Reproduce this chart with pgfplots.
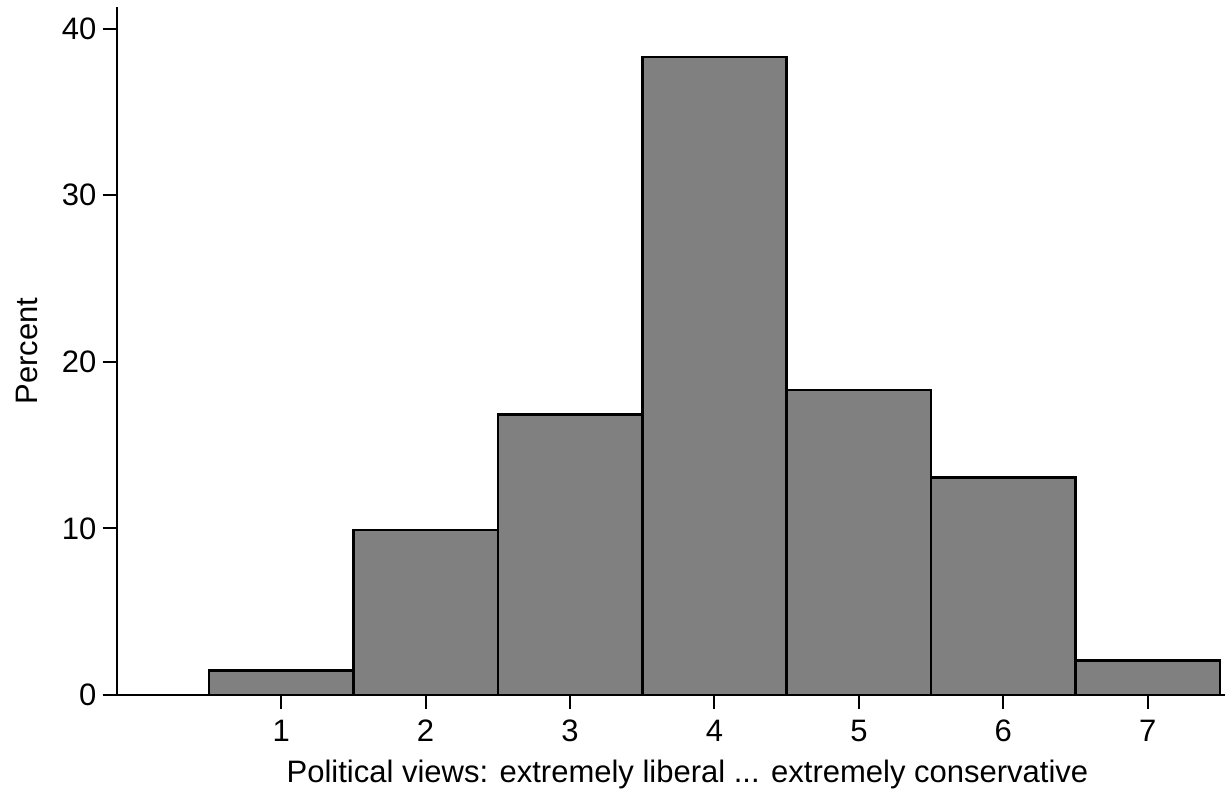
\documentclass[border=0pt]{standalone}
\usepackage{pgfplots}
\pgfplotsset{compat=1.18}
\usepackage{fontspec}
\setmainfont{Liberation Sans}
\definecolor{barfill}{RGB}{128,128,128}
\begin{document}
\begin{tikzpicture}
\useasboundingbox (0,0) rectangle (613pt,402.5pt);
\begin{axis}[
  at={(58.35pt,55pt)}, anchor=south west,
  scale only axis,
  width=554.15pt, height=344pt,
  xmin=-0.139, xmax=7.535,
  ymin=0, ymax=41.3,
  axis x line=bottom, axis y line=left,
  axis line style={-, line width=1pt, black},
  xtick={1,2,3,4,5,6,7},
  ytick={0,10,20,30,40},
  minor tick num=0,
  tick align=outside,
  major tick length=7pt,
  tick style={line width=1pt, black},
  /pgf/number format/assume math mode=true,
  ticklabel style={font=\fontsize{15.5}{18}\selectfont},
  yticklabel style={inner sep=0pt, xshift=-3pt},
  xticklabel style={yshift=-2pt},
  label style={font=\fontsize{15.5}{18}\selectfont},
  xlabel={Political views: extremely liberal ... extremely conservative},
  xlabel style={at={(axis description cs:0.515,-0.1265)}, anchor=base},
  ylabel={Percent},
  ylabel style={at={(axis description cs:-0.0809,0.5)}, anchor=center, rotate=0},
  clip=false,
]
\addplot[ybar interval, fill=barfill, draw=black, line width=1.3pt] coordinates {
  (0.5,1.46) (1.5,9.9) (2.5,16.85) (3.5,38.3) (4.5,18.31) (5.5,13.07) (6.5,2.06) (7.5,2.06)
};
\end{axis}
\end{tikzpicture}
\end{document}
